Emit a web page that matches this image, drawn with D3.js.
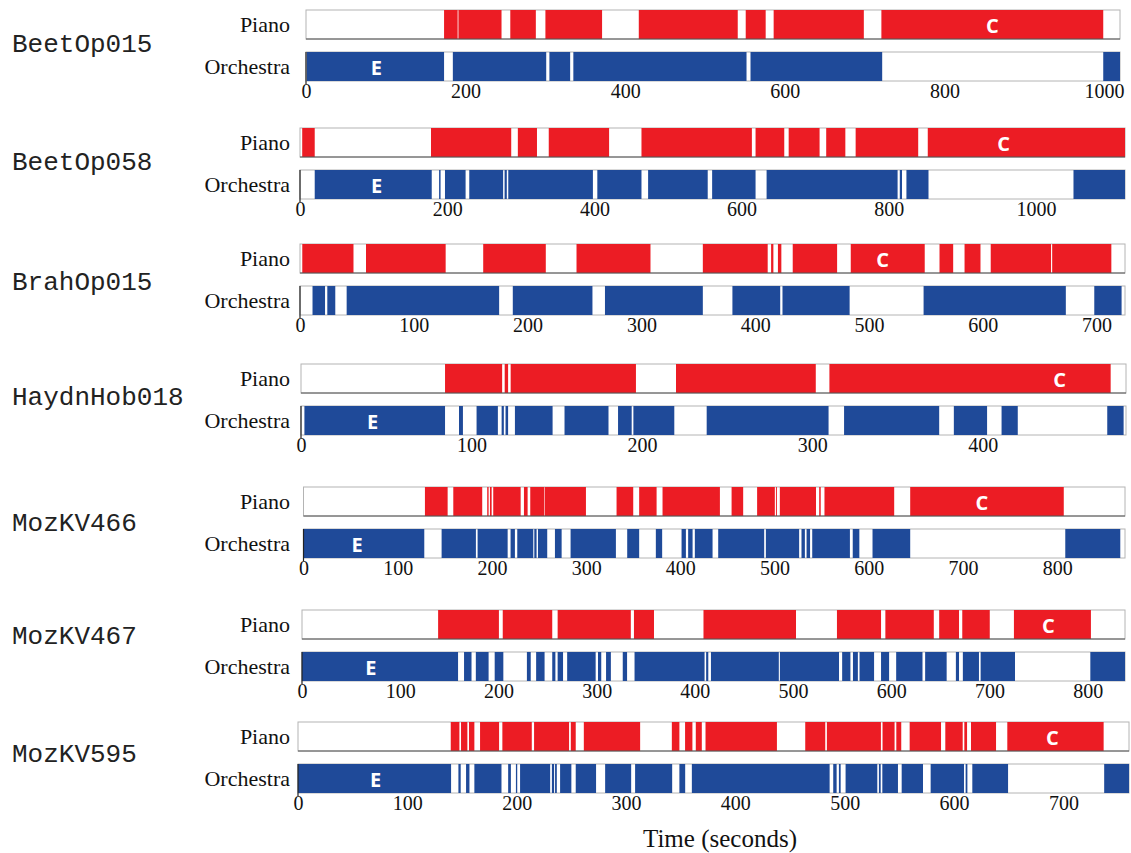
<!DOCTYPE html>
<html>
<head>
<meta charset="utf-8">
<script src="https://cdn.jsdelivr.net/npm/d3@7"></script>
<style>
  body { margin: 0; background: #fff; }
  svg { display: block; }
</style>
</head>
<body>
<svg id="chart" width="1131" height="853"></svg>
<script>
// Pieces and their total durations (seconds)
const pieces = ["BeetOp015", "BeetOp058", "BrahOp015", "HaydnHob018", "MozKV466", "MozKV467", "MozKV595"];
const durations = [1020, 1121, 725, 484, 872, 838, 760];

// Tick labels of each time axis
const ticksBeetOp015 = [0, 200, 400, 600, 800, 1000];
const ticksBeetOp058 = [0, 200, 400, 600, 800, 1000];
const ticksBrahOp015 = [0, 100, 200, 300, 400, 500, 600, 700];
const ticksHaydnHob018 = [0, 100, 200, 300, 400];
const ticksMozKV466 = [0, 100, 200, 300, 400, 500, 600, 700, 800];
const ticksMozKV467 = [0, 100, 200, 300, 400, 500, 600, 700, 800];
const ticksMozKV595 = [0, 100, 200, 300, 400, 500, 600, 700];

// Active intervals [start, end] in seconds, per piece and part
const pianoBeetOp015 = [[173,190],[191,245],[256,288],[300,371],[417,541],[551,576],[586,699],[721,999]];
const orchBeetOp015 = [[1,173],[184,301],[305,331],[335,552],[557,722],[999,1020]];

const pianoBeetOp058 = [[3,20],[178,287],[296,322],[338,420],[464,614],[619,658],[664,706],[715,741],[755,840],[853,1121]];
const orchBeetOp058 = [[20,179],[189,191],[197,225],[230,276],[278,281],[283,398],[404,464],[473,554],[560,619],[634,812],[815,818],[824,854],[1051,1121]];

const pianoBrahOp015 = [[2,47],[58,128],[161,216],[243,308],[354,411],[414,416],[420,423],[433,472],[484,549],[562,574],[584,598],[607,660],[661,713]];
const orchBrahOp015 = [[11,22],[24,31],[41,175],[187,257],[268,354],[380,422],[424,483],[548,673],[698,722]];

const pianoHaydnHob018 = [[84.5,118],[119.5,121.5],[123,196.5],[220,302],[310,475]];
const orchHaydnHob018 = [[2,84.5],[92.7,95],[103,115.5],[117.7,119],[120,121.5],[125.5,147.6],[154.6,180.4],[186,194],[195,219],[238,309.5],[318.6,374.4],[383,402.5],[411,420.5],[473,482.6]];

const pianoMozKV466 = [[128.9,153],[159,189.7],[195,196.5],[197.9,199.7],[201.4,230.5],[234,237.9],[240.7,255.3],[255.9,299.8],[332.3,350],[356.3,374.8],[381.1,442],[454.4,466.7],[481.5,500.3],[501.5,502.5],[505.6,544],[547.4,549],[553,627],[644,807]];
const orchMozKV466 = [[0,128.2],[146.6,183],[184.8,216.7],[219.8,224.4],[226.9,243.9],[245,247.4],[248.9,258.7],[266.9,274],[283.5,331.6],[343.6,356.3],[374,380.7],[401.3,405.9],[408.3,413],[415.4,434.2],[440.2,489],[490.8,526.1],[528.6,532.2],[534,537.7],[540,580],[583,590],[604,644],[808.6,867]];

const pianoMozKV467 = [[138.6,200.5],[204.4,254.8],[260.3,334.8],[338,358.4],[408.8,503],[544.7,589.6],[594,643.3],[648.8,669],[672.3,700.3],[724.9,803.3]];
const orchMozKV467 = [[0,158.9],[165,172.6],[177,190],[196.2,205],[229,232.9],[238.4,247],[254.8,258],[260.3,265.8],[270,299],[301.4,304.7],[309.6,314.5],[326.6,331],[338.6,409.9],[411.5,413.7],[416.4,485.5],[486.6,546.8],[550,558.4],[561,566],[567.7,582.5],[589.6,597.8],[605,631.8],[634.5,656.4],[665.8,669],[672.9,689.3],[691,726],[802.7,838]];

const pianoMozKV595 = [[139.7,147.6],[149.1,154.9],[156.4,161.3],[166.5,183.9],[186.9,213.8],[215.9,247.9],[249.5,254],[261.4,312.9],[341.9,348.8],[354,360.7],[363.8,369.3],[372.7,438],[463.9,482.2],[483.7,533.1],[534.6,545.6],[547.2,551.7],[559.4,588.1],[592,607.9],[609.4,611.9],[615.5,638.4],[648.7,736.8]];
const orchMozKV595 = [[0,140],[146.7,148.8],[153.7,156.8],[161.3,186.1],[192.2,194.7],[199.3,200.5],[203.1,230.6],[232.2,234.2],[235.1,236.7],[239.7,250],[254,272.6],[280.9,304.7],[308.3,342.2],[348.8,354.1],[360.2,486.2],[489.5,492.6],[494.7,496.3],[500.8,529.8],[531.3,532.9],[534.4,548.7],[552.1,571.6],[578.6,609.1],[610.6,612.2],[616.7,649.4],[737.3,760]];

// Section markers: exposition (E, orchestra row) and cadenza (C, piano row), in seconds
const expositionAt = [88, 104, null, 42, 57, 70, 71];
const cadenzaAt = [860, 956, 512, 445, 720, 760, 690];

const pianoParts = [pianoBeetOp015, pianoBeetOp058, pianoBrahOp015, pianoHaydnHob018, pianoMozKV466, pianoMozKV467, pianoMozKV595];
const orchParts = [orchBeetOp015, orchBeetOp058, orchBrahOp015, orchHaydnHob018, orchMozKV466, orchMozKV467, orchMozKV595];
const tickSets = [ticksBeetOp015, ticksBeetOp058, ticksBrahOp015, ticksHaydnHob018, ticksMozKV466, ticksMozKV467, ticksMozKV595];

// ---- layout ----
const panelTop = [10, 128, 244, 364, 487, 610, 722];
const nameOffset = [35, 35, 39, 34, 37, 27, 33];
const xStart = [306, 300, 300, 301, 303.5, 302, 298];
const xEnd = [1120, 1125, 1125, 1126, 1125, 1125, 1129];
const barH = 29;
const orchOffset = 42;
const RED = "#ec1c24";
const BLUE = "#1f4a99";
const SERIF = "'Liberation Serif', 'Times New Roman', serif";

const svg = d3.select("#chart");
svg.append("rect").attr("width", 1131).attr("height", 853).attr("fill", "#fff");

pieces.forEach((name, i) => {
  const top = panelTop[i];
  const x = d3.scaleLinear().domain([0, durations[i]]).range([xStart[i], xEnd[i]]);
  const g = svg.append("g").attr("class", "panel");

  const rows = [
    { label: "Piano", y: top, data: pianoParts[i], color: RED },
    { label: "Orchestra", y: top + orchOffset, data: orchParts[i], color: BLUE }
  ];

  rows.forEach((row, r) => {
    // frame
    g.append("rect")
      .attr("x", x(0)).attr("y", row.y)
      .attr("width", x(durations[i]) - x(0)).attr("height", barH)
      .attr("fill", "#fff").attr("stroke", "#b4b4b4").attr("stroke-width", 1);

    g.append("g").selectAll("rect")
      .data(row.data)
      .join("rect")
      .attr("x", d => x(d[0]))
      .attr("y", row.y)
      .attr("width", d => Math.max(0.6, x(d[1]) - x(d[0])))
      .attr("height", barH)
      .attr("fill", row.color);

    if (r === 0) {
      g.append("line")
        .attr("x1", x(0)).attr("x2", x(durations[i]))
        .attr("y1", row.y + barH).attr("y2", row.y + barH)
        .attr("stroke", "#555").attr("stroke-width", 1.2);
    } else {
      g.append("line")
        .attr("x1", x(0)).attr("x2", x(0))
        .attr("y1", row.y).attr("y2", row.y + barH + 3)
        .attr("stroke", "#222").attr("stroke-width", 1.2);
    }

    g.append("text")
      .attr("x", 290).attr("y", row.y + barH / 2)
      .attr("text-anchor", "end")
      .attr("dominant-baseline", "central")
      .attr("font-family", SERIF)
      .attr("font-size", 22)
      .attr("fill", "#111")
      .text(row.label);
  });

  // section markers
  const markerStyle = sel => sel
    .attr("text-anchor", "middle")
    .attr("dominant-baseline", "central")
    .attr("font-family", "'Open Sans', 'DejaVu Sans', sans-serif")
    .attr("font-weight", "bold")
    .attr("font-size", 20)
    .attr("fill", "#fff");

  if (expositionAt[i] !== null) {
    g.append("text").call(markerStyle)
      .attr("x", x(expositionAt[i])).attr("y", top + orchOffset + barH / 2 + 1)
      .text("E");
  }
  if (cadenzaAt[i] !== null) {
    g.append("text").call(markerStyle)
      .attr("x", x(cadenzaAt[i])).attr("y", top + barH / 2 + 1)
      .text("C");
  }

  // piece name
  g.append("text")
    .attr("x", 12).attr("y", top + nameOffset[i])
    .attr("dominant-baseline", "central")
    .attr("font-family", "'Liberation Mono', 'DejaVu Sans Mono', monospace")
    .attr("font-size", 26)
    .attr("fill", "#222")
    .text(name);

  // time axis
  const axis = d3.axisBottom(x).tickValues(tickSets[i]).tickSize(0).tickPadding(3).tickFormat(d3.format("d"));
  const ag = g.append("g")
    .attr("transform", `translate(0,${top + orchOffset + barH})`)
    .call(axis);
  ag.select(".domain").remove();
  ag.selectAll("text")
    .attr("font-family", SERIF)
    .attr("font-size", 20)
    .attr("fill", "#111");
});

svg.append("text")
  .attr("x", 720).attr("y", 838)
  .attr("text-anchor", "middle")
  .attr("dominant-baseline", "central")
  .attr("font-family", SERIF)
  .attr("font-size", 25)
  .attr("fill", "#111")
  .text("Time (seconds)");
</script>
</body>
</html>
